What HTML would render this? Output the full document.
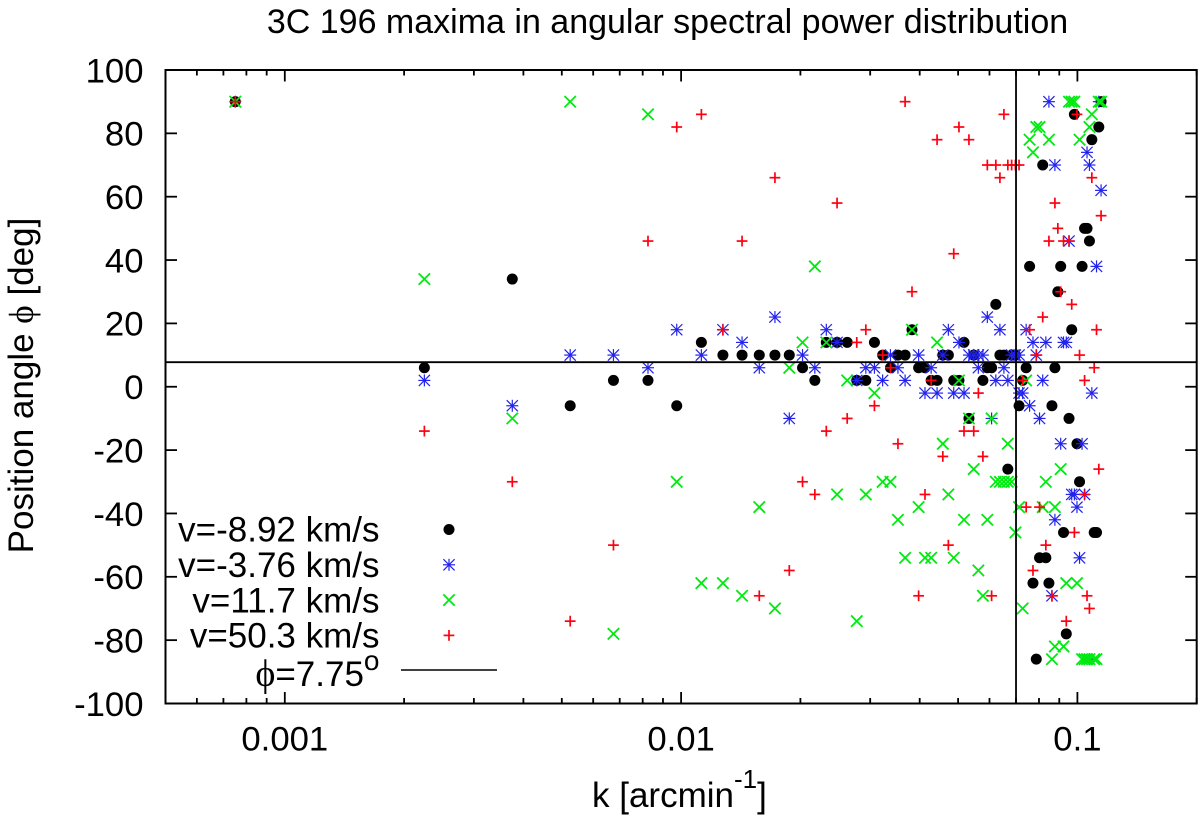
<!DOCTYPE html>
<html lang="en">
<head>
<meta charset="utf-8">
<title>3C 196 maxima in angular spectral power distribution</title>
<style>
html,body{margin:0;padding:0;background:#fff;}
svg{display:block;}
text{font-family:"Liberation Sans",sans-serif;fill:#000;}
</style>
</head>
<body>
<svg id="chart" xmlns="http://www.w3.org/2000/svg" width="1200" height="816" viewBox="0 0 1200 816">
  <rect x="0" y="0" width="1200" height="816" fill="#fff"/>
  <text x="667.5" y="33" font-size="34" text-anchor="middle">3C 196 maxima in angular spectral power distribution</text>
  <text transform="translate(33,385.5) rotate(-90)" font-size="35" text-anchor="middle">Position angle <tspan font-family="Liberation Serif, DejaVu Serif, serif">ϕ</tspan> [deg]</text>
  <text x="592" y="807" font-size="35">k [arcmin<tspan font-size="26" dy="-19">-1</tspan><tspan dy="19">]</tspan></text>
  <g id="ticks"></g>
  <g id="series"></g>
  <g id="refs"></g>
  <rect x="165.5" y="70" width="1031.2" height="633.5" fill="none" stroke="#000" stroke-width="2"/>
  <g id="legend"></g>
</svg>
<script>
// ---- Axis values ----
const xDecades = [0.001, 0.01, 0.1];
const xTickLabels = ["0.001", "0.01", "0.1"];
const xMinorTicks = [0.0006,0.0007,0.0008,0.0009,0.002,0.003,0.004,0.005,0.006,0.007,0.008,0.009,0.02,0.03,0.04,0.05,0.06,0.07,0.08,0.09,0.2];
const yTicks = [100,80,60,40,20,0,-20,-40,-60,-80,-100];
const yTickLabels = ["100","80","60","40","20","0","-20","-40","-60","-80","-100"];
const refPhi = 7.75;
const refK = 0.07;

// ---- Series: v=-8.92 km/s ----
const blackK = [
 0.00075,0.11475, 0.09825, 0.11325, 0.10875, 0.08175, 0.10425,0.10575, 0.10725,
 0.07575,0.09075,0.10275, 0.00375, 0.08925, 0.06225, 0.03825,0.09675,
 0.01125,0.02325,0.02475,0.02625,0.03075,0.05175,
 0.01275,0.01425,0.01575,0.01725,0.01875,0.03225,0.03525,0.03675,0.04575,0.04725,0.05475,0.06375,0.06525,0.06825,0.06975,
 0.00225,0.02025,0.03375,0.03975,0.04125,0.05925,0.06075,0.07425,0.08775,
 0.00675,0.00825,0.02175,0.02775,0.02925,0.04275,0.04425,0.04875,0.05025,0.05775,0.07275,
 0.00525,0.00975,0.07125,0.08625, 0.05325,0.09525, 0.09975, 0.06675, 0.10125,
 0.09225,0.11025,0.11175, 0.08025,0.08325, 0.07725,0.08475, 0.09375, 0.07875];
const blackPhi = [
 90,90, 86, 82, 78, 70, 50,50, 46,
 38,38,38, 34, 30, 26, 18,18,
 14,14,14,14,14,14,
 10,10,10,10,10,10,10,10,10,10,10,10,10,10,10,
 6,6,6,6,6,6,6,6,6,
 2,2,2,2,2,2,2,2,2,2,2,
 -6,-6,-6,-6, -10,-10, -18, -26, -30,
 -46,-46,-46, -54,-54, -62,-62, -78, -86];

// ---- Series: v=-3.76 km/s ----
const blueK = [
 0.00075,0.08475,0.11325, 0.10575, 0.08775,0.10725, 0.11475, 0.09525, 0.11175,
 0.01725,0.05925,
 0.00975,0.01275,0.02325,0.04725,0.06375,0.07425,
 0.01425,0.02475,0.05025,0.07725,0.08325,0.09225,0.09375,
 0.00525,0.00675,0.01125,0.02025,0.03375,0.03975,0.04575,0.05325,0.05475,0.05625,0.05775,0.06825,0.06975,0.07125,0.07875,
 0.00825,0.01575,0.02175,0.02925,0.03075,0.03525,0.04275,0.05625,0.06525,
 0.00225,0.02775,0.03225,0.03675,0.06225,0.06675,0.08175,
 0.04125,0.04425,0.04875,0.05175,0.07125,0.07275,0.10875,
 0.00375,0.07575, 0.01875,0.06075,0.08025, 0.09075,0.10275,
 0.09675,0.09825,0.10425, 0.09975, 0.08775, 0.10125, 0.08625, 0.10725];
const bluePhi = [
 90,90,90, 74, 70,70, 62, 46, 38,
 22,22,
 18,18,18,18,18,18,
 14,14,14,14,14,14,14,
 10,10,10,10,10,10,10,10,10,10,10,10,10,10,10,
 6,6,6,6,6,6,6,6,6,
 2,2,2,2,2,2,2,
 -2,-2,-2,-2,-2,-2,-2,
 -6,-6, -10,-10,-10, -18,-18,
 -34,-34,-34, -38, -42, -54, -66, -86];

// ---- Series: v=11.7 km/s ----
const greenK = [
 0.00075,0.00525,0.09525,0.09675,0.09825,0.11325,0.11475,
 0.00825,0.10875, 0.07875,0.08025,0.10725, 0.07575,0.08475,0.10125, 0.07725,
 0.02175, 0.00225, 0.03825, 0.02025,0.02325,0.04425, 0.01875,
 0.02625,0.05025,0.07425, 0.03075,
 0.00375,0.05325,0.06075, 0.04575,0.06675, 0.05475,0.09075,
 0.00975,0.03225,0.03375,0.06225,0.06375,0.06525,0.06675,0.06825,0.08325,
 0.02475,0.02925,0.04725,
 0.01575,0.03975,0.07125,0.08175,0.08775,
 0.03525,0.05175,0.05925, 0.06975,
 0.03675,0.04125,0.04275,0.04875, 0.05625,
 0.01125,0.01275,0.09375,0.09975,
 0.01425,0.05775, 0.01725,0.07275, 0.02775, 0.00675,
 0.08775,0.09225,
 0.08625,0.10275,0.10425,0.10575,0.10725,0.11025,0.11175];
const greenPhi = [
 90,90,90,90,90,90,90,
 86,86, 82,82,82, 78,78,78, 74,
 38, 34, 18, 14,14,14, 6,
 2,2,2, -2,
 -10,-10,-10, -18,-18, -26,-26,
 -30,-30,-30,-30,-30,-30,-30,-30,-30,
 -34,-34,-34,
 -38,-38,-38,-38,-38,
 -42,-42,-42, -46,
 -54,-54,-54,-54, -58,
 -62,-62,-62,-62,
 -66,-66, -70,-70, -74, -78,
 -82,-82,
 -86,-86,-86,-86,-86,-86,-86];

// ---- Series: v=50.3 km/s ----
const redK = [
 0.00075,0.03675, 0.01125,0.06525,0.09975, 0.00975,0.05025, 0.04425,0.05325,
 0.05925,0.06225,0.06675,0.06825,0.06975,0.07125,
 0.01725,0.06375,0.10875, 0.02475,0.08775, 0.11475, 0.08925,
 0.00825,0.01425,0.08475,0.09225,0.09525, 0.04875,
 0.03825,0.09075, 0.09675, 0.08175,
 0.01275,0.02925,0.07575,0.11175, 0.02775,
 0.03225,0.07875,0.10125, 0.03375,0.11025,
 0.04275,0.07275,0.10425, 0.05625, 0.03075, 0.02625,
 0.00225,0.02325,0.05175,0.05475, 0.03525,
 0.04575,0.05775, 0.11325, 0.00375,0.02025,
 0.02175,0.04125,0.10425, 0.07425,0.08025, 0.09825,
 0.00675,0.04725,0.08325, 0.01875,0.07725,
 0.01575,0.03975,0.06075,0.08625,0.10575, 0.10725,
 0.00525,0.09375];
const redPhi = [
 90,90, 86,86,86, 82,82, 78,78,
 70,70,70,70,70,70,
 66,66,66, 58,58, 54, 50,
 46,46,46,46,46, 42,
 30,30, 26, 22,
 18,18,18,18, 14,
 10,10,10, 6,6,
 2,2,2, -2, -6, -10,
 -14,-14,-14,-14, -18,
 -22,-22, -26, -30,-30,
 -34,-34,-34, -38,-38, -46,
 -50,-50,-50, -58,-58,
 -66,-66,-66,-66,-66, -70,
 -74,-74];

// ---- Legend ----
const legendLabels = ["v=-8.92 km/s","v=-3.76 km/s","v=11.7 km/s","v=50.3 km/s"];
const legendKinds = ["circle","star","cross","plus"];

// ---- Axis functions ----
const NS = "http://www.w3.org/2000/svg";
const xLeft = 165.5, xRight = 1196.7, yTop = 70, yBottom = 703.5;
const kMin = 0.0005, kMax = 0.2, phiMin = -100, phiMax = 100;
function X(k){ return xLeft + (Math.log10(k) - Math.log10(kMin)) / (Math.log10(kMax) - Math.log10(kMin)) * (xRight - xLeft); }
function Y(p){ return yBottom - (p - phiMin) / (phiMax - phiMin) * (yBottom - yTop); }

function make(tag, parent, attrs){
  const el = document.createElementNS(NS, tag);
  for (const key in attrs) el.setAttribute(key, attrs[key]);
  parent.appendChild(el);
  return el;
}
function seg(parent, x1, y1, x2, y2, color, width){
  return make("line", parent, {x1:x1, y1:y1, x2:x2, y2:y2, stroke:color, "stroke-width":width});
}

// marker drawing
const BLUE = "#2222ee", GREEN = "#00ea10", RED = "#ff0010";
function drawMarker(parent, kind, cx, cy){
  let g;
  if (kind === "circle") {
    g = make("circle", parent, {cx:cx, cy:cy, r:5.5, fill:"#000"});
  } else if (kind === "star") {
    g = make("g", parent, {});
    seg(g, cx-6, cy, cx+6, cy, BLUE, 1.2);
    seg(g, cx, cy-6, cx, cy+6, BLUE, 1.2);
    seg(g, cx-5.6, cy-5.6, cx+5.6, cy+5.6, BLUE, 1.2);
    seg(g, cx-5.6, cy+5.6, cx+5.6, cy-5.6, BLUE, 1.2);
  } else if (kind === "cross") {
    g = make("g", parent, {});
    seg(g, cx-5.7, cy-5.7, cx+5.7, cy+5.7, GREEN, 1.8);
    seg(g, cx-5.7, cy+5.7, cx+5.7, cy-5.7, GREEN, 1.8);
  } else {
    g = make("g", parent, {});
    seg(g, cx-5.4, cy, cx+5.4, cy, RED, 1.7);
    seg(g, cx, cy-5.4, cx, cy+5.4, RED, 1.7);
  }
  return g;
}

// ticks and tick labels
const ticksG = document.getElementById("ticks");
yTicks.forEach(function(v, i){
  const y = Y(v);
  const l = seg(ticksG, xLeft, y, xLeft + 11.5, y, "#000", 1.8);
  
  
  const r = seg(ticksG, xRight - 11.5, y, xRight, y, "#000", 1.8);
  
  
  const t = make("text", ticksG, {x:143.5, y:y + 12.3, "font-size":34.7, "text-anchor":"end"});
  t.textContent = yTickLabels[i];
  
  
});
xDecades.forEach(function(v, i){
  const x = X(v);
  const b = seg(ticksG, x, yBottom, x, yBottom - 11.5, "#000", 1.8);
  
  
  const a = seg(ticksG, x, yTop, x, yTop + 11.5, "#000", 1.8);
  
  
  const t = make("text", ticksG, {x:x, y:750.5, "font-size":34.7, "text-anchor":"middle"});
  t.textContent = xTickLabels[i];
  
  
});
xMinorTicks.forEach(function(v){
  const x = X(v);
  const b = seg(ticksG, x, yBottom, x, yBottom - 5.5, "#000", 1.8);
  
  
  const a = seg(ticksG, x, yTop, x, yTop + 5.5, "#000", 1.8);
  
  
});

// series marks
const seriesG = document.getElementById("series");
const blackG = make("g", seriesG, {});


blackK.forEach(function(k, i){
  const m = drawMarker(blackG, "circle", X(k), Y(blackPhi[i]));
  
  
});
const blueG = make("g", seriesG, {});


blueK.forEach(function(k, i){
  const m = drawMarker(blueG, "star", X(k), Y(bluePhi[i]));
  
  
});
const greenG = make("g", seriesG, {});


greenK.forEach(function(k, i){
  const m = drawMarker(greenG, "cross", X(k), Y(greenPhi[i]));
  
  
});
const redG = make("g", seriesG, {});


redK.forEach(function(k, i){
  const m = drawMarker(redG, "plus", X(k), Y(redPhi[i]));
  
  
});

// reference lines
const refsG = document.getElementById("refs");
const hLine = seg(refsG, xLeft, Y(refPhi), xRight, Y(refPhi), "#000", 1.8);


const vLine = seg(refsG, X(refK), yTop, X(refK), yBottom, "#000", 1.8);



// legend
const legendG = document.getElementById("legend");
legendLabels.forEach(function(label, i){
  const t = make("text", legendG, {x:379.5, y:541.7 + i * 35.3, "font-size":35, "text-anchor":"end"});
  t.textContent = label;
  
  
  const m = drawMarker(legendG, legendKinds[i], 449, 529.5 + i * 35.3);
  
  
});
const phiText = make("text", legendG, {x:379.5, y:686, "font-size":35, "text-anchor":"end"});


const phiGlyph = make("tspan", phiText, {"font-family":"Liberation Serif, DejaVu Serif, serif", "font-size":38});
phiGlyph.textContent = "ϕ";
const phiVal = make("tspan", phiText, {});
phiVal.textContent = "=7.75";
const phiSup = make("tspan", phiText, {"font-size":28, dy:-16});
phiSup.textContent = "o";
const legLine = seg(legendG, 401, 670, 497, 670, "#000", 1.6);


</script>
</body>
</html>
